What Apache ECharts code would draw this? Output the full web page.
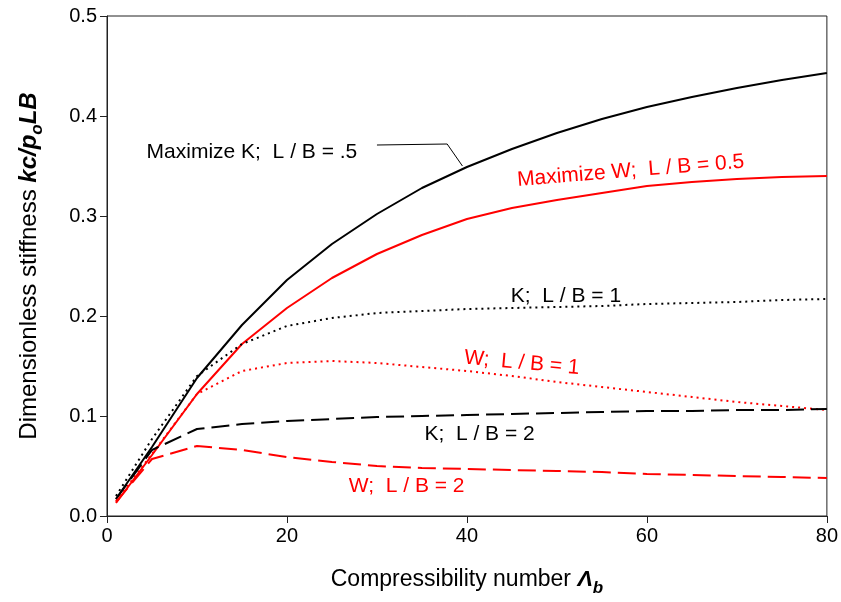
<!DOCTYPE html>
<html><head><meta charset="utf-8">
<script src="https://cdn.jsdelivr.net/npm/echarts@6/dist/echarts.min.js"></script>
<style>html,body{margin:0;padding:0;background:#fff}#c{width:841px;height:602px}</style>
</head><body><div id="c"></div>
<script>
// Compressibility number values
const xValues = [1, 5, 10, 15, 20, 25, 30, 35, 40, 45, 50, 55, 60, 65, 70, 75, 80];
// Maximize K, L/B = 0.5 (solid black)
const kLB05 = [0.017, 0.069, 0.138, 0.191, 0.236, 0.272, 0.302, 0.328, 0.349, 0.367, 0.383, 0.397, 0.409, 0.419, 0.428, 0.436, 0.443];
// Maximize W, L/B = 0.5 (solid red)
const wLB05 = [0.013, 0.061, 0.122, 0.172, 0.208, 0.238, 0.262, 0.281, 0.297, 0.308, 0.316, 0.323, 0.330, 0.334, 0.337, 0.339, 0.340];
// K, L/B = 1 (dotted black)
const kLB1 = [0.020, 0.077, 0.140, 0.172, 0.190, 0.198, 0.203, 0.205, 0.207, 0.208, 0.209, 0.210, 0.212, 0.213, 0.214, 0.216, 0.217];
// W, L/B = 1 (dotted red)
const wLB1 = [0.015, 0.062, 0.122, 0.145, 0.153, 0.155, 0.153, 0.149, 0.145, 0.140, 0.134, 0.129, 0.124, 0.119, 0.114, 0.110, 0.106];
// K, L/B = 2 (dashed black)
const kLB2 = [0.017, 0.066, 0.087, 0.092, 0.095, 0.097, 0.099, 0.100, 0.101, 0.102, 0.103, 0.104, 0.105, 0.105, 0.106, 0.106, 0.107];
// W, L/B = 2 (dashed red)
const wLB2 = [0.014, 0.057, 0.070, 0.066, 0.059, 0.054, 0.050, 0.048, 0.047, 0.046, 0.045, 0.044, 0.042, 0.041, 0.040, 0.039, 0.038];
// leader line for the "Maximize K" label (data coordinates)
const leaderX = [30.0, 37.8, 39.5];
const leaderY = [0.371, 0.372, 0.350];
// tick labels
const xTicks = [0, 20, 40, 60, 80];
const yTicks = [0.0, 0.1, 0.2, 0.3, 0.4, 0.5];
// annotation texts and their data-coordinate anchors
const labelTexts = ['Maximize K;  L / B = .5', 'Maximize W;  L / B = 0.5', 'K;  L / B = 1', 'W;  L / B = 1', 'K;  L / B = 2', 'W;  L / B = 2'];
const labelAnchorX = [4.4, 58.2, 51.0, 46.1, 41.4, 33.3];
const labelAnchorY = [0.364, 0.345, 0.220, 0.153, 0.082, 0.030];

const FONT = '"Liberation Sans", Arial, Helvetica, sans-serif';
const labelColors = ['#000', '#ff0000', '#000', '#ff0000', '#000', '#ff0000'];
const labelAlign = ['left', 'center', 'center', 'center', 'center', 'center'];
const labelRot = [0, 4.6, 0, -5.2, 0, 0];

const pairs = arr => xValues.map((x, i) => [x, arr[i]]);
function lineSeries(name, arr, color, type) {
  return {
    name, type: 'line', data: pairs(arr), symbol: 'none', smooth: false,
    lineStyle: { color, width: 2, type }, z: 3, silent: true
  };
}

const chart = echarts.init(document.getElementById('c'), null, { renderer: 'canvas' });
const option = {
  animation: false,
  backgroundColor: '#fff',
  textStyle: { fontFamily: FONT },
  grid: { left: 107, right: 12, top: 16, bottom: 81, show: true, borderColor: '#222', borderWidth: 1, backgroundColor: 'transparent' },
  xAxis: {
    type: 'value', min: xTicks[0], max: xTicks[xTicks.length - 1], interval: xTicks[1] - xTicks[0],
    axisLine: { lineStyle: { color: '#222', width: 1 } },
    axisTick: { show: true, length: 7, lineStyle: { color: '#222' } },
    axisLabel: { color: '#000', fontSize: 20, fontFamily: FONT, margin: 10 },
    splitLine: { show: false },
    name: '{n|Compressibility number }{L|\u039B}{s|b}',
    nameLocation: 'middle', nameGap: 47,
    nameTextStyle: {
      rich: {
        n: { fontSize: 23, fontFamily: FONT, color: '#000', lineHeight: 34 },
        L: { fontSize: 23, fontFamily: FONT, color: '#000', fontWeight: 'bold', fontStyle: 'italic', lineHeight: 34 },
        s: { fontSize: 17, fontFamily: FONT, color: '#000', fontWeight: 'bold', fontStyle: 'italic', lineHeight: 16, verticalAlign: 'bottom' }
      }
    }
  },
  yAxis: {
    type: 'value', min: yTicks[0], max: yTicks[yTicks.length - 1], interval: yTicks[1] - yTicks[0],
    axisLine: { show: true, lineStyle: { color: '#222', width: 1 } },
    axisTick: { show: true, length: 7, lineStyle: { color: '#222' } },
    axisLabel: { color: '#000', fontSize: 20, fontFamily: FONT, margin: 10, formatter: v => v.toFixed(1) },
    splitLine: { show: false },
    name: '{n|Dimensionless stiffness }{b|kc/p}{s|o}{b|LB}',
    nameLocation: 'middle', nameGap: 61, nameRotate: 90,
    nameTextStyle: {
      rich: {
        n: { fontSize: 24, fontFamily: FONT, color: '#000', lineHeight: 34 },
        b: { fontSize: 24, fontFamily: FONT, color: '#000', fontWeight: 'bold', fontStyle: 'italic', lineHeight: 34 },
        s: { fontSize: 17, fontFamily: FONT, color: '#000', fontWeight: 'bold', fontStyle: 'italic', lineHeight: 16, verticalAlign: 'bottom' }
      }
    }
  },
  series: [
    lineSeries('Maximize K; L/B = .5', kLB05, '#000', 'solid'),
    lineSeries('Maximize W; L/B = 0.5', wLB05, '#ff0000', 'solid'),
    lineSeries('K; L/B = 1', kLB1, '#000', [2, 4]),
    lineSeries('W; L/B = 1', wLB1, '#ff0000', [2, 4]),
    lineSeries('K; L/B = 2', kLB2, '#000', [18, 7]),
    lineSeries('W; L/B = 2', wLB2, '#ff0000', [18, 7]),
    {
      name: 'leader', type: 'line', symbol: 'none', silent: true, z: 2,
      data: leaderX.map((x, i) => [x, leaderY[i]]),
      lineStyle: { color: '#000', width: 1 }
    }
  ]
};
chart.setOption(option);

const graphics = labelTexts.map((t, i) => {
  const p = chart.convertToPixel({ gridIndex: 0 }, [labelAnchorX[i], labelAnchorY[i]]);
  return {
    type: 'text', x: p[0], y: p[1], rotation: labelRot[i] * Math.PI / 180, z: 10,
    style: { text: t, fill: labelColors[i], font: '21px ' + FONT, textAlign: labelAlign[i], textVerticalAlign: 'middle' }
  };
});
chart.setOption({ graphic: graphics });
</script></body></html>
